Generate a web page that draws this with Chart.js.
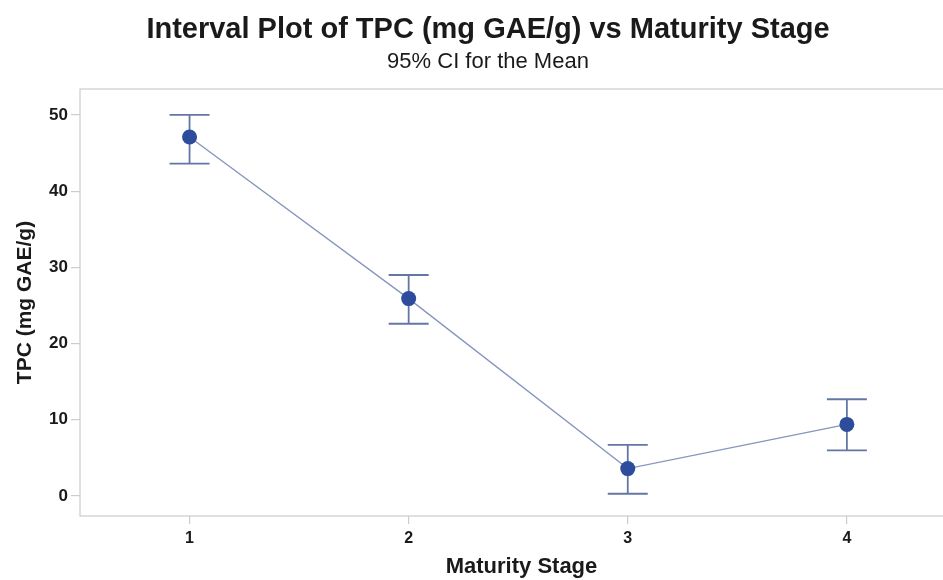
<!DOCTYPE html>
<html>
<head>
<meta charset="utf-8">
<script src="https://cdn.jsdelivr.net/npm/chart.js@4.4.1/dist/chart.umd.min.js"></script>
<style>
  html, body { margin: 0; padding: 0; background: #fff; overflow: hidden; }
  #wrap { width: 984px; height: 580px; }
</style>
</head>
<body>
<div id="wrap"><canvas id="c" width="984" height="580"></canvas></div>
<script>
const stages = [1, 2, 3, 4];
const meanTPC = [47.1, 25.9, 3.6, 9.4];
const lowerCI = [43.6, 22.6, 0.3, 6.0];
const upperCI = [50.0, 29.0, 6.7, 12.7];
const yTicks = [0, 10, 20, 30, 40, 50];

const FONT = "'Liberation Sans', Arial, sans-serif";

const errorBars = {
  id: 'errorBars',
  beforeDatasetsDraw(chart) {
    const { ctx, scales: { x, y } } = chart;
    ctx.save();
    ctx.strokeStyle = '#6377a6';
    ctx.lineWidth = 1.8;
    stages.forEach((s, i) => {
      const px = x.getPixelForValue(s);
      const pLo = y.getPixelForValue(lowerCI[i]);
      const pHi = y.getPixelForValue(upperCI[i]);
      const half = 20;
      ctx.beginPath();
      ctx.moveTo(px, pLo); ctx.lineTo(px, pHi);
      ctx.moveTo(px - half, pHi); ctx.lineTo(px + half, pHi);
      ctx.moveTo(px - half, pLo); ctx.lineTo(px + half, pLo);
      ctx.stroke();
    });
    ctx.restore();
  }
};

const frame = {
  id: 'frame',
  beforeDraw(chart) {
    const { ctx, chartArea: a } = chart;
    ctx.save();
    ctx.strokeStyle = '#cccccc';
    ctx.lineWidth = 1.2;
    ctx.strokeRect(a.left, a.top, a.right - a.left, a.bottom - a.top);
    ctx.restore();
  }
};

new Chart(document.getElementById('c'), {
  type: 'scatter',
  data: {
    datasets: [{
      data: stages.map((s, i) => ({ x: s, y: meanTPC[i] })),
      showLine: true,
      borderColor: '#8595bd',
      borderWidth: 1.3,
      pointRadius: 7.5,
      pointBackgroundColor: '#2d4c9c',
      pointBorderColor: '#2d4c9c',
      pointBorderWidth: 0
    }]
  },
  options: {
    responsive: false,
    animation: false,
    events: [],
    layout: { padding: { left: 13, right: 21, top: 0, bottom: 0 } },
    plugins: {
      legend: { display: false },
      tooltip: { enabled: false },
      title: {
        display: true,
        text: 'Interval Plot of TPC (mg GAE/g) vs Maturity Stage',
        color: '#1a1a1a',
        font: { family: FONT, size: 29, weight: 'bold', lineHeight: 1.0 },
        padding: { top: 15.5, bottom: 0 }
      },
      subtitle: {
        display: true,
        text: '95% CI for the Mean',
        color: '#1a1a1a',
        font: { family: FONT, size: 22, weight: 'normal', lineHeight: 1.0 },
        padding: { top: 6, bottom: 16.5 }
      }
    },
    scales: {
      x: {
        type: 'linear',
        min: 0.5,
        max: 4.53,
        afterBuildTicks(scale) { scale.ticks = stages.map(v => ({ value: v })); },
        afterFit(scale) { scale.height = 64; },
        ticks: {
          color: '#1a1a1a',
          font: { family: FONT, size: 16, weight: 'bold' },
          padding: 5,
          callback: v => String(v)
        },
        grid: { drawOnChartArea: false, color: '#cccccc', tickLength: 8, lineWidth: 1.2 },
        border: { display: false },
        title: {
          display: true,
          text: 'Maturity Stage',
          color: '#1a1a1a',
          font: { family: FONT, size: 22, weight: 'bold' },
          padding: { top: 6, bottom: 0 }
        }
      },
      y: {
        min: -2.62,
        max: 53.4,
        afterBuildTicks(scale) { scale.ticks = yTicks.map(v => ({ value: v })); },
        afterFit(scale) { scale.width = 67; },
        ticks: {
          color: '#1a1a1a',
          font: { family: FONT, size: 17, weight: 'bold' },
          padding: 3,
          callback: v => String(v)
        },
        grid: { drawOnChartArea: false, color: '#cccccc', tickLength: 9, lineWidth: 1.2 },
        border: { display: false },
        title: {
          display: true,
          text: 'TPC (mg GAE/g)',
          color: '#1a1a1a',
          font: { family: FONT, size: 21, weight: 'bold' },
          padding: { top: 0, bottom: 2 }
        }
      }
    }
  },
  plugins: [frame, errorBars]
});
</script>
</body>
</html>
